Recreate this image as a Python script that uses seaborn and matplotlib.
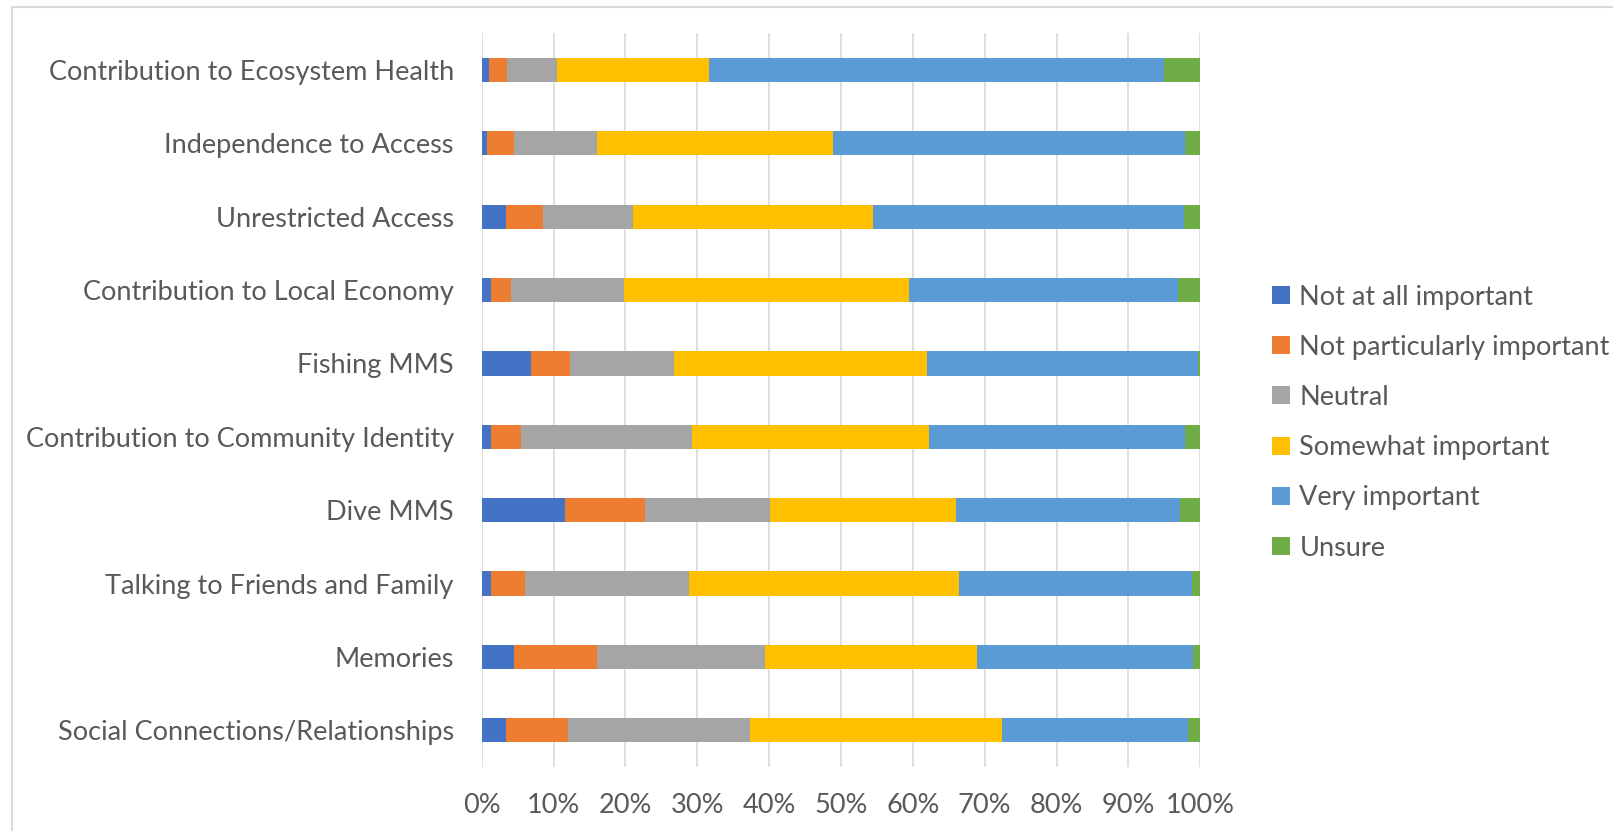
import matplotlib
matplotlib.use("Agg")
import matplotlib.pyplot as plt
from matplotlib.patches import Patch, Rectangle
import numpy as np
import pandas as pd
import seaborn as sns

categories = [
    "Contribution to Ecosystem Health",
    "Independence to Access",
    "Unrestricted Access",
    "Contribution to Local Economy",
    "Fishing MMS",
    "Contribution to Community Identity",
    "Dive MMS",
    "Talking to Friends and Family",
    "Memories",
    "Social Connections/Relationships",
]

responses = [
    "Not at all important",
    "Not particularly important",
    "Neutral",
    "Somewhat important",
    "Very important",
    "Unsure",
]

# percentage of respondents per rating, one list per response level
not_at_all = [1.0, 0.7, 3.4, 1.3, 6.8, 1.3, 11.6, 1.3, 4.5, 3.4]
not_particularly = [2.5, 3.8, 5.2, 2.8, 5.5, 4.2, 11.2, 4.8, 11.6, 8.6]
neutral = [7.0, 11.6, 12.5, 15.7, 14.5, 23.8, 17.3, 22.8, 23.3, 25.4]
somewhat = [21.1, 32.8, 33.3, 39.7, 35.2, 33.0, 25.9, 37.5, 29.6, 35.0]
very = [63.3, 49.0, 43.3, 37.4, 37.7, 35.6, 31.2, 32.5, 30.0, 25.9]
unsure = [5.1, 2.1, 2.3, 3.1, 0.3, 2.1, 2.8, 1.1, 1.0, 1.7]

colors = ["#4472C4", "#ED7D31", "#A5A5A5", "#FFC000", "#5B9BD5", "#70AD47"]

series = [not_at_all, not_particularly, neutral, somewhat, very, unsure]
df = pd.DataFrame({r: v for r, v in zip(responses, series)}, index=categories)
cum = df.cumsum(axis=1)

sns.set_theme(style="white")
plt.rcParams["font.family"] = ["Lato", "DejaVu Sans"]
text_color = "#595959"
fs = 19.5

fig = plt.figure(figsize=(16.13, 8.31), dpi=100)
ax = fig.add_axes([0.2986, 0.077, 0.4455, 0.883])

# stacked bars: draw cumulative totals from the outermost level inward
for resp, col in reversed(list(zip(responses, colors))):
    long = pd.DataFrame({"category": categories, "value": cum[resp].values})
    sns.barplot(data=long, x="value", y="category", order=categories,
                color=col, width=0.33, orient="h", ax=ax,
                saturation=1, linewidth=0, zorder=3)

ax.set_xlim(0, 100)
ax.set_ylim(len(categories) - 0.5, -0.5)
ax.set_xticks(np.arange(0, 101, 10))
ax.set_xticklabels([f"{t}%" for t in range(0, 101, 10)])
ax.set_xlabel("")
ax.set_ylabel("")
ax.grid(axis="x", color="#D9D9D9", linewidth=1.2, zorder=0)
ax.set_axisbelow(True)
for s in ax.spines.values():
    s.set_visible(False)
ax.tick_params(axis="y", length=0, pad=20, labelsize=fs, labelcolor=text_color)
ax.tick_params(axis="x", length=0, pad=19, labelsize=fs, labelcolor=text_color)

handles = [Patch(facecolor=c, edgecolor="none", label=r) for r, c in zip(responses, colors)]
fig.legend(handles=handles, loc="center left", bbox_to_anchor=(0.782, 0.4915),
           frameon=False, fontsize=fs, labelcolor=text_color,
           handlelength=0.65, handleheight=0.65, handletextpad=0.35,
           labelspacing=0.93, borderaxespad=0)

# chart area outline
fig.patches.append(Rectangle((12 / 1613, -0.05), 1.1, 1 - 7 / 831 + 0.05,
                             transform=fig.transFigure, fill=False,
                             edgecolor="#D9D9D9", linewidth=1.5))

fig.savefig("out.png", dpi=100)
